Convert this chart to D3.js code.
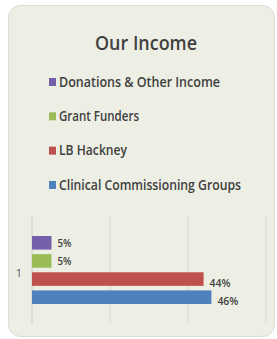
<!DOCTYPE html>
<html>
<head>
<meta charset="utf-8">
<script src="https://cdnjs.cloudflare.com/ajax/libs/d3/7.8.5/d3.min.js"></script>
<style>
  body { margin: 0; background: #fff; }
  text { font-family: "Open Sans", "Noto Sans", sans-serif; }
</style>
</head>
<body>
<div id="chart"></div>
<script>
// data
var series = ["Donations & Other Income", "Grant Funders", "LB Hackney", "Clinical Commissioning Groups"];
var values = [0.05, 0.05, 0.44, 0.46];
var labels = ["5%", "5%", "44%", "46%"];
var colors = ["#7460a8", "#9bbb59", "#c0504d", "#4f81bd"];
var categories = ["1"];
var ticks = [0, 0.2, 0.4, 0.6];

var W = 277, H = 339;

var svg = d3.select("#chart")
    .append("svg")
    .attr("width", W)
    .attr("height", H);

// panel
svg.append("rect")
    .attr("x", 8.5).attr("y", 5.5)
    .attr("width", 266).attr("height", 331)
    .attr("rx", 12).attr("ry", 12)
    .attr("fill", "#edefe4")
    .attr("stroke", "#dcdcd4");

// title
svg.append("text")
    .attr("x", 146).attr("y", 50)
    .attr("text-anchor", "middle")
    .attr("font-size", 19)
    .attr("font-weight", 600)
    .attr("fill", "#404040")
    .attr("lengthAdjust", "spacingAndGlyphs")
    .attr("textLength", 102)
    .text("Our Income");

// legend
var legendY = d3.scalePoint()
    .domain(series)
    .range([82, 185]);

var legend = svg.append("g")
    .selectAll("g")
    .data(series)
    .enter()
    .append("g")
    .attr("transform", function (d) { return "translate(49," + legendY(d) + ")"; });

legend.append("rect")
    .attr("x", 0).attr("y", -4)
    .attr("width", 7).attr("height", 8)
    .attr("fill", function (d, i) { return colors[i]; });

legend.append("text")
    .attr("x", 10).attr("y", 0)
    .attr("dy", "0.35em")
    .attr("font-size", 13.5)
    .attr("font-weight", 600)
    .attr("fill", "#404040")
    .attr("lengthAdjust", "spacingAndGlyphs")
    .attr("textLength", function (d, i) { return [161, 80, 68, 182][i]; })
    .text(function (d) { return d; });

// plot
var margin = { top: 216, left: 32 };
var pw = 234, ph = 107;

var g = svg.append("g")
    .attr("transform", "translate(" + margin.left + "," + margin.top + ")");

var x = d3.scaleLinear()
    .domain([0, 0.6])
    .range([0, pw]);

var y = d3.scaleBand()
    .domain(categories)
    .range([0, ph]);

var ys = d3.scaleBand()
    .domain(series)
    .range([20, 88])
    .paddingInner(0.25);

// gridlines
g.append("g")
    .selectAll("line")
    .data(ticks)
    .enter()
    .append("line")
    .attr("x1", function (d) { return x(d); })
    .attr("x2", function (d) { return x(d); })
    .attr("y1", 0).attr("y2", ph)
    .attr("stroke", function (d) { return d === 0 ? "#c8c8c0" : "#d8d9d0"; })
    .attr("stroke-width", 1);

// category label
g.append("text")
    .attr("x", -13)
    .attr("y", y(categories[0]) + ys.bandwidth() / 2 + 54)
    .attr("text-anchor", "middle")
    .attr("font-size", 11)
    .attr("fill", "#595959")
    .text(categories[0]);

// bars
g.append("g")
    .selectAll("rect")
    .data(values)
    .enter()
    .append("rect")
    .attr("x", x(0))
    .attr("y", function (d, i) { return y(categories[0]) + ys(series[i]); })
    .attr("width", function (d) { return x(d) - x(0); })
    .attr("height", ys.bandwidth())
    .attr("fill", function (d, i) { return colors[i]; });

// value labels
g.append("g")
    .selectAll("text")
    .data(values)
    .enter()
    .append("text")
    .attr("x", function (d) { return x(d) + 6; })
    .attr("y", function (d, i) { return y(categories[0]) + ys(series[i]) + ys.bandwidth() / 2 + (d > 0.2 ? 4 : 0); })
    .attr("dy", "0.35em")
    .attr("font-size", 11.5)
    .attr("font-weight", 600)
    .attr("fill", "#404040")
    .attr("lengthAdjust", "spacingAndGlyphs")
    .attr("textLength", function (d, i) { return labels[i].length * 7; })
    .text(function (d, i) { return labels[i]; });
</script>
</body>
</html>
